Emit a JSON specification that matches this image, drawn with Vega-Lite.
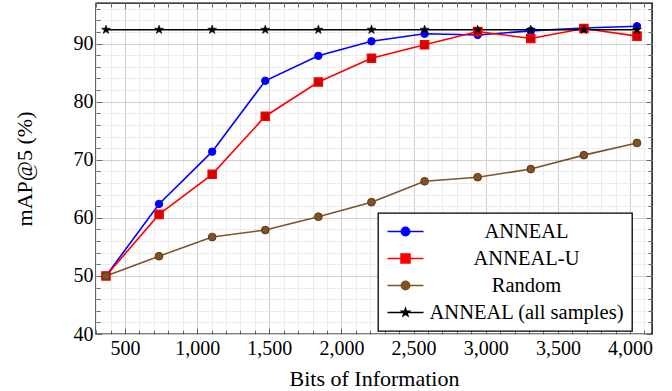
{
  "$schema": "https://vega.github.io/schema/vega-lite/v6.json",
  "width": 556,
  "height": 331,
  "autosize": {"type": "none"},
  "padding": {"left": 96, "top": 3, "right": 20, "bottom": 57},
  "background": "white",
  "config": {
    "view": {"stroke": "black", "strokeWidth": 1.4},
    "font": "Liberation Serif",
    "axis": {"domain": false, "labelFont": "Liberation Serif", "titleFont": "Liberation Serif", "titleFontWeight": "normal", "labelColor": "black", "titleColor": "black", "tickColor": "#666666", "tickWidth": 1}
  },
  "data": {"values": [
    {"bits": 368, "map": 50.0, "method": "ANNEAL"},
    {"bits": 736, "map": 62.4, "method": "ANNEAL"},
    {"bits": 1104, "map": 71.4, "method": "ANNEAL"},
    {"bits": 1472, "map": 83.6, "method": "ANNEAL"},
    {"bits": 1840, "map": 87.9, "method": "ANNEAL"},
    {"bits": 2208, "map": 90.4, "method": "ANNEAL"},
    {"bits": 2576, "map": 91.7, "method": "ANNEAL"},
    {"bits": 2944, "map": 91.5, "method": "ANNEAL"},
    {"bits": 3312, "map": 92.2, "method": "ANNEAL"},
    {"bits": 3680, "map": 92.7, "method": "ANNEAL"},
    {"bits": 4048, "map": 93.0, "method": "ANNEAL"},
    {"bits": 368, "map": 50.0, "method": "ANNEAL-U"},
    {"bits": 736, "map": 60.6, "method": "ANNEAL-U"},
    {"bits": 1104, "map": 67.5, "method": "ANNEAL-U"},
    {"bits": 1472, "map": 77.5, "method": "ANNEAL-U"},
    {"bits": 1840, "map": 83.4, "method": "ANNEAL-U"},
    {"bits": 2208, "map": 87.5, "method": "ANNEAL-U"},
    {"bits": 2576, "map": 89.8, "method": "ANNEAL-U"},
    {"bits": 2944, "map": 92.1, "method": "ANNEAL-U"},
    {"bits": 3312, "map": 90.9, "method": "ANNEAL-U"},
    {"bits": 3680, "map": 92.6, "method": "ANNEAL-U"},
    {"bits": 4048, "map": 91.3, "method": "ANNEAL-U"},
    {"bits": 368, "map": 50.0, "method": "Random"},
    {"bits": 736, "map": 53.4, "method": "Random"},
    {"bits": 1104, "map": 56.7, "method": "Random"},
    {"bits": 1472, "map": 57.9, "method": "Random"},
    {"bits": 1840, "map": 60.2, "method": "Random"},
    {"bits": 2208, "map": 62.7, "method": "Random"},
    {"bits": 2576, "map": 66.3, "method": "Random"},
    {"bits": 2944, "map": 67.0, "method": "Random"},
    {"bits": 3312, "map": 68.4, "method": "Random"},
    {"bits": 3680, "map": 70.8, "method": "Random"},
    {"bits": 4048, "map": 72.9, "method": "Random"},
    {"bits": 368, "map": 92.4, "method": "ANNEAL (all samples)"},
    {"bits": 736, "map": 92.4, "method": "ANNEAL (all samples)"},
    {"bits": 1104, "map": 92.4, "method": "ANNEAL (all samples)"},
    {"bits": 1472, "map": 92.4, "method": "ANNEAL (all samples)"},
    {"bits": 1840, "map": 92.4, "method": "ANNEAL (all samples)"},
    {"bits": 2208, "map": 92.4, "method": "ANNEAL (all samples)"},
    {"bits": 2576, "map": 92.4, "method": "ANNEAL (all samples)"},
    {"bits": 2944, "map": 92.4, "method": "ANNEAL (all samples)"},
    {"bits": 3312, "map": 92.4, "method": "ANNEAL (all samples)"},
    {"bits": 3680, "map": 92.4, "method": "ANNEAL (all samples)"},
    {"bits": 4048, "map": 92.4, "method": "ANNEAL (all samples)"}
  ]},
  "resolve": {"axis": {"x": "independent", "y": "independent"}},
  "layer": [
    {
      "mark": {"type": "line", "strokeWidth": 1.6},
      "encoding": {
        "x": {"field": "bits", "type": "quantitative",
          "scale": {"domain": [299, 4152], "nice": false, "zero": false},
          "axis": {"orient": "bottom", "title": "Bits of Information", "titleFont": "Liberation Serif", "titleFontSize": 22, "titlePadding": 8,
            "values": [300,400,500,600,700,800,900,1000,1100,1200,1300,1400,1500,1600,1700,1800,1900,2000,2100,2200,2300,2400,2500,2600,2700,2800,2900,3000,3100,3200,3300,3400,3500,3600,3700,3800,3900,4000,4100],
            "labelExpr": "datum.value % 500 === 0 ? format(datum.value, ',') : ''",
            "labelFont": "Liberation Serif", "labelFontSize": 20, "labelOverlap": false, "labelFlush": false, "labelBound": false,
            "grid": true, "gridColor": {"expr": "datum.value % 500 === 0 ? '#cfcfcf' : '#ececec'"}, "gridWidth": 1,
            "tickSize": {"expr": "datum.value % 500 === 0 ? -6 : -4"}, "labelPadding": 10}},
        "y": {"field": "map", "type": "quantitative",
          "scale": {"domain": [40, 97], "nice": false, "zero": false},
          "axis": {"orient": "left", "title": "mAP@5 (%)", "titleFont": "Liberation Serif", "titleFontSize": 22, "titlePadding": 37,
            "values": [40,42,44,46,48,50,52,54,56,58,60,62,64,66,68,70,72,74,76,78,80,82,84,86,88,90,92,94,96],
            "labelExpr": "datum.value % 10 === 0 ? datum.value : ''",
            "labelFont": "Liberation Serif", "labelFontSize": 20, "labelOverlap": false, "labelFlush": false, "labelBound": false,
            "grid": true, "gridColor": {"expr": "datum.value % 10 === 0 ? '#cfcfcf' : '#ececec'"}, "gridWidth": 1,
            "tickSize": {"expr": "datum.value % 10 === 0 ? -6 : -4"}, "labelPadding": 9}},
        "color": {"field": "method", "type": "nominal",
          "scale": {"domain": ["ANNEAL", "ANNEAL-U", "Random", "ANNEAL (all samples)"], "range": ["#0000ff", "#ff0000", "#7f5224", "#000000"]},
          "legend": {"orient": "none", "legendX": 282, "legendY": 210, "title": null,
            "strokeColor": "black", "fillColor": "white", "padding": 7.5,
            "labelFont": "Liberation Serif", "labelFontSize": 20.5, "labelColor": "black", "labelLimit": 400,
            "labelAlign": "center", "labelOffset": 110, "rowPadding": 5,
            "symbolSize": 400, "symbolOffset": 9, "symbolStrokeWidth": 1.5,
            "encode": {
              "legend": {"update": {"strokeWidth": {"value": 1.3}}},
              "symbols": {"update": {
                "shape": {"signal": "datum.value === 'ANNEAL' ? 'M-1.8,0H1.8M-0.42,0A0.42,0.42,0,1,1,0.42,0A0.42,0.42,0,1,1,-0.42,0Z' : datum.value === 'ANNEAL-U' ? 'M-1.8,0H1.8M-0.45,-0.45H0.45V0.45H-0.45Z' : datum.value === 'Random' ? 'M-1.8,0H1.8M-0.42,0A0.42,0.42,0,1,1,0.42,0A0.42,0.42,0,1,1,-0.42,0Z' : 'M-1.8,0H1.8M0,-0.4L0.094,-0.13L0.38,-0.124L0.152,0.05L0.235,0.324L0,0.16L-0.235,0.324L-0.152,0.05L-0.38,-0.124L-0.094,-0.13Z'"},
                "fill": {"scale": "color", "field": "value"},
                "stroke": {"scale": "color", "field": "value"},
                "strokeWidth": {"value": 1.5},
                "opacity": {"value": 1}
              }}
            }}}
      }
    },
    {
      "transform": [{"filter": "datum.method === 'ANNEAL'"}],
      "mark": {"type": "point", "shape": "circle", "filled": true, "size": 55, "fill": "#0000ff", "stroke": "#0000ff", "strokeWidth": 1, "opacity": 1},
      "encoding": {
        "x": {"field": "bits", "type": "quantitative",
          "axis": {"orient": "top", "title": null, "labels": false, "grid": false,
            "values": [300,400,500,600,700,800,900,1000,1100,1200,1300,1400,1500,1600,1700,1800,1900,2000,2100,2200,2300,2400,2500,2600,2700,2800,2900,3000,3100,3200,3300,3400,3500,3600,3700,3800,3900,4000,4100],
            "tickSize": {"expr": "datum.value % 500 === 0 ? -6 : -4"}}},
        "y": {"field": "map", "type": "quantitative",
          "axis": {"orient": "right", "title": null, "labels": false, "grid": false,
            "values": [40,42,44,46,48,50,52,54,56,58,60,62,64,66,68,70,72,74,76,78,80,82,84,86,88,90,92,94,96],
            "tickSize": {"expr": "datum.value % 10 === 0 ? -6 : -4"}}}
      }
    },
    {
      "transform": [{"filter": "datum.method === 'ANNEAL-U'"}],
      "mark": {"type": "point", "shape": "square", "filled": true, "size": 70, "fill": "#d40000", "stroke": "#ff0000", "strokeWidth": 1.2, "opacity": 1},
      "encoding": {
        "x": {"field": "bits", "type": "quantitative", "axis": null},
        "y": {"field": "map", "type": "quantitative", "axis": null}
      }
    },
    {
      "transform": [{"filter": "datum.method === 'Random'"}],
      "mark": {"type": "point", "shape": "circle", "filled": true, "size": 60, "fill": "#7f5224", "stroke": "#5c3b1a", "strokeWidth": 1, "opacity": 1},
      "encoding": {
        "x": {"field": "bits", "type": "quantitative", "axis": null},
        "y": {"field": "map", "type": "quantitative", "axis": null}
      }
    },
    {
      "transform": [{"filter": "datum.method === 'ANNEAL (all samples)'"}],
      "mark": {"type": "point", "shape": "M0,-1L0.235,-0.324L0.951,-0.309L0.380,0.124L0.588,0.809L0,0.4L-0.588,0.809L-0.380,0.124L-0.951,-0.309L-0.235,-0.324Z", "filled": true, "size": 90, "fill": "#000000", "stroke": "#000000", "strokeWidth": 0.5, "opacity": 1},
      "encoding": {
        "x": {"field": "bits", "type": "quantitative", "axis": null},
        "y": {"field": "map", "type": "quantitative", "axis": null}
      }
    }
  ]
}
